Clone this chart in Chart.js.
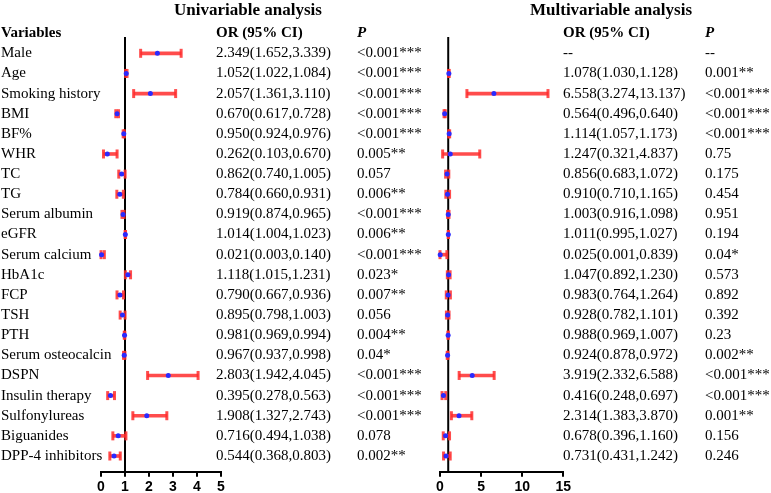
<!DOCTYPE html>
<html>
<head>
<meta charset="utf-8">
<script src="https://cdn.jsdelivr.net/npm/chart.js@4.4.1/dist/chart.umd.min.js"></script>
<style>
  html, body { margin: 0; padding: 0; background: #fff; }
  #wrap { position: relative; width: 771px; height: 493px; }
  canvas { position: absolute; left: 0; top: 0; }
</style>
</head>
<body>
<div id="wrap">
  <canvas id="uni" width="771" height="493"></canvas>
  <canvas id="multi" width="771" height="493"></canvas>
</div>
<script>
const variables = ['Male', 'Age', 'Smoking history', 'BMI', 'BF%', 'WHR', 'TC', 'TG', 'Serum albumin', 'eGFR',
  'Serum calcium', 'HbA1c', 'FCP', 'TSH', 'PTH', 'Serum osteocalcin', 'DSPN', 'Insulin therapy',
  'Sulfonylureas', 'Biguanides', 'DPP-4 inhibitors'];

const uniOR   = [2.349, 1.052, 2.057, 0.670, 0.950, 0.262, 0.862, 0.784, 0.919, 1.014, 0.021, 1.118, 0.790, 0.895, 0.981, 0.967, 2.803, 0.395, 1.908, 0.716, 0.544];
const uniLow  = [1.652, 1.022, 1.361, 0.617, 0.924, 0.103, 0.740, 0.660, 0.874, 1.004, 0.003, 1.015, 0.667, 0.798, 0.969, 0.937, 1.942, 0.278, 1.327, 0.494, 0.368];
const uniHigh = [3.339, 1.084, 3.110, 0.728, 0.976, 0.670, 1.005, 0.931, 0.965, 1.023, 0.140, 1.231, 0.936, 1.003, 0.994, 0.998, 4.045, 0.563, 2.743, 1.038, 0.803];
const uniP = ['<0.001***', '<0.001***', '<0.001***', '<0.001***', '<0.001***', '0.005**', '0.057', '0.006**', '<0.001***', '0.006**',
  '<0.001***', '0.023*', '0.007**', '0.056', '0.004**', '0.04*', '<0.001***', '<0.001***', '<0.001***', '0.078', '0.002**'];

const multiOR   = [null, 1.078, 6.558, 0.564, 1.114, 1.247, 0.856, 0.910, 1.003, 1.011, 0.025, 1.047, 0.983, 0.928, 0.988, 0.924, 3.919, 0.416, 2.314, 0.678, 0.731];
const multiLow  = [null, 1.030, 3.274, 0.496, 1.057, 0.321, 0.683, 0.710, 0.916, 0.995, 0.001, 0.892, 0.764, 0.782, 0.969, 0.878, 2.332, 0.248, 1.383, 0.396, 0.431];
const multiHigh = [null, 1.128, 13.137, 0.640, 1.173, 4.837, 1.072, 1.165, 1.098, 1.027, 0.839, 1.230, 1.264, 1.101, 1.007, 0.972, 6.588, 0.697, 3.870, 1.160, 1.242];
const multiP = ['--', '0.001**', '<0.001***', '<0.001***', '<0.001***', '0.75', '0.175', '0.454', '0.951', '0.194',
  '0.04*', '0.573', '0.892', '0.392', '0.23', '0.002**', '<0.001***', '<0.001***', '0.001**', '0.156', '0.246'];

const uniTicks = [0, 1, 2, 3, 4, 5];
const multiTicks = [0, 5, 10, 15];

const SERIF = "'Liberation Serif', 'Times New Roman', serif";
const RED = 'rgba(255,45,45,0.85)';
const BLUE = '#2a2aff';

function orLabel(or, lo, hi) {
  if (or == null) return '--';
  return or.toFixed(3) + '(' + lo.toFixed(3) + ',' + hi.toFixed(3) + ')';
}

// vertical line at OR = 1
const refLine = {
  id: 'refLine',
  beforeDatasetsDraw(chart) {
    const { ctx, chartArea: { top, bottom }, scales: { x } } = chart;
    const px = x.getPixelForValue(1);
    ctx.save();
    ctx.strokeStyle = '#000';
    ctx.lineWidth = 2;
    ctx.beginPath();
    ctx.moveTo(px, top);
    ctx.lineTo(px, bottom);
    ctx.stroke();
    ctx.restore();
  }
};

// table columns next to the plot
const tableText = {
  id: 'tableText',
  afterDraw(chart, args, o) {
    const ctx = chart.ctx, y = chart.scales.y;
    ctx.save();
    ctx.fillStyle = '#000';
    ctx.textBaseline = 'middle';
    ctx.textAlign = 'center';
    ctx.font = 'bold 17px ' + SERIF;
    ctx.fillText(o.title, o.titleX, 11);
    ctx.textAlign = 'left';
    ctx.font = 'bold 15px ' + SERIF;
    if (o.showNames) ctx.fillText('Variables', 1, 33);
    ctx.fillText('OR (95% CI)', o.orX, 33);
    ctx.font = 'italic bold 15px ' + SERIF;
    ctx.fillText('P', o.pX, 33);
    ctx.font = '15px ' + SERIF;
    variables.forEach((name, i) => {
      const py = y.getPixelForValue(i);
      if (o.showNames) ctx.fillText(name, 1, py);
      ctx.fillText(orLabel(o.or[i], o.low[i], o.high[i]), o.orX, py);
      ctx.fillText(o.p[i], o.pX, py);
    });
    ctx.restore();
  }
};

function forest(id, or, low, high, p, ticks, xMax, left, right, text) {
  const idx = variables.map((v, i) => i).filter(i => or[i] != null);
  const ctx = document.getElementById(id).getContext('2d');
  return new Chart(ctx, {
    type: 'bar',
    plugins: [refLine, tableText],
    data: {
      datasets: [
        {
          type: 'scatter',
          data: idx.map(i => ({ x: or[i], y: i })),
          pointRadius: 2.5,
          pointBackgroundColor: BLUE,
          pointBorderWidth: 0,
          clip: false,
          order: 0
        },
        {
          type: 'scatter',
          data: idx.map(i => ({ x: low[i], y: i })),
          pointStyle: 'line',
          rotation: 90,
          pointRadius: 4.5,
          pointBorderColor: RED,
          pointBorderWidth: 3,
          clip: false,
          order: 1
        },
        {
          type: 'scatter',
          data: idx.map(i => ({ x: high[i], y: i })),
          pointStyle: 'line',
          rotation: 90,
          pointRadius: 4.5,
          pointBorderColor: RED,
          pointBorderWidth: 3,
          clip: false,
          order: 1
        },
        {
          type: 'bar',
          data: idx.map(i => ({ x: [low[i], high[i]], y: i })),
          backgroundColor: RED,
          borderWidth: 0,
          barThickness: 3,
          clip: false,
          order: 2
        }
      ]
    },
    options: {
      responsive: false,
      animation: false,
      indexAxis: 'y',
      layout: { padding: { left: left, right: 771 - right, top: 37, bottom: 0.3 } },
      plugins: {
        legend: { display: false },
        tooltip: { enabled: false },
        tableText: text
      },
      scales: {
        y: { type: 'linear', min: -0.81, max: 20.78, reverse: true, offset: false, display: false },
        x: {
          type: 'linear', min: 0, max: xMax, position: 'bottom',
          afterBuildTicks: s => { s.ticks = ticks.map(v => ({ value: v })); },
          afterFit: s => { s.height = 21; },
          grid: { drawOnChartArea: false, drawTicks: true, tickLength: 5, color: '#000', lineWidth: 2 },
          border: { display: true, color: '#000', width: 2 },
          ticks: {
            color: '#000', padding: 2,
            font: { family: "'Liberation Sans', Arial, sans-serif", weight: 'bold', size: 14 }
          }
        }
      }
    }
  });
}

forest('uni', uniOR, uniLow, uniHigh, uniP, uniTicks, 5, 101, 221, {
  title: 'Univariable analysis', titleX: 248, showNames: true, orX: 216, pX: 357,
  or: uniOR, low: uniLow, high: uniHigh, p: uniP
});

forest('multi', multiOR, multiLow, multiHigh, multiP, multiTicks, 15, 440, 563.3, {
  title: 'Multivariable analysis', titleX: 611, showNames: false, orX: 563, pX: 705,
  or: multiOR, low: multiLow, high: multiHigh, p: multiP
});
</script>
</body>
</html>
